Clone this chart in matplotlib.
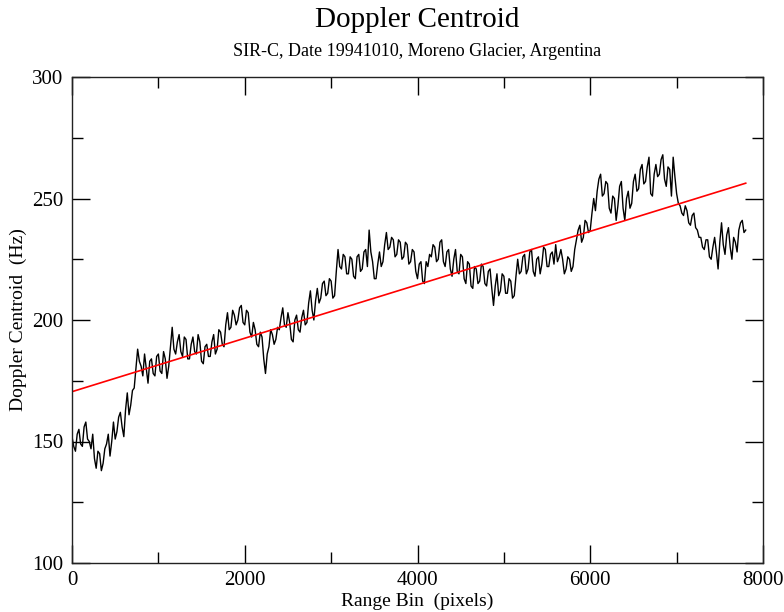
import numpy as np
import matplotlib
matplotlib.use("Agg")
import matplotlib.pyplot as plt
from matplotlib.ticker import MultipleLocator

# -----Data-----
bin_step = 20  # range bins between samples
doppler = [
    152, 148, 146, 153, 155, 149, 148, 156, 158, 151, 150, 147, 153, 143, 139, 146, 145, 138, 141, 147,
    149, 153, 144, 150, 158, 151, 154, 160, 162, 156, 152, 163, 170, 161, 165, 171, 172, 180, 188, 183,
    181, 177, 186, 180, 174, 183, 184, 178, 177, 185, 186, 179, 178, 187, 184, 176, 181, 189, 197, 188,
    186, 191, 194, 187, 185, 193, 192, 184, 184, 190, 193, 187, 186, 194, 191, 183, 182, 189, 190, 185,
    185, 191, 194, 186, 188, 196, 195, 190, 189, 198, 203, 196, 197, 204, 202, 198, 200, 205, 206, 199,
    198, 204, 203, 195, 193, 199, 196, 190, 189, 195, 193, 184, 178, 186, 189, 196, 194, 190, 192, 197,
    196, 201, 205, 198, 197, 203, 199, 192, 191, 200, 202, 196, 195, 201, 204, 198, 199, 207, 212, 204,
    200, 208, 213, 207, 209, 215, 216, 210, 211, 217, 216, 209, 210, 220, 229, 222, 221, 227, 226, 219,
    219, 226, 225, 218, 217, 226, 227, 220, 221, 228, 229, 222, 237, 228, 224, 217, 217, 223, 228, 222,
    224, 231, 236, 229, 230, 234, 233, 226, 227, 233, 232, 225, 226, 232, 231, 223, 224, 229, 228, 220,
    217, 223, 224, 216, 215, 224, 222, 227, 226, 231, 230, 224, 225, 232, 233, 224, 222, 228, 229, 221,
    218, 225, 229, 220, 219, 227, 226, 217, 215, 224, 223, 214, 213, 222, 221, 215, 216, 223, 222, 215,
    214, 220, 221, 213, 206, 214, 219, 210, 212, 219, 218, 211, 211, 217, 216, 209, 210, 218, 225, 219,
    220, 226, 227, 219, 221, 228, 229, 220, 218, 225, 226, 219, 223, 230, 229, 222, 222, 227, 228, 223,
    231, 224, 226, 229, 225, 219, 221, 226, 225, 220, 222, 229, 233, 237, 239, 232, 234, 241, 240, 236,
    237, 244, 250, 245, 253, 258, 260, 251, 252, 257, 256, 246, 244, 251, 250, 241, 247, 255, 257, 246,
    241, 250, 253, 246, 248, 257, 260, 253, 254, 262, 264, 256, 257, 263, 267, 252, 251, 260, 264, 259,
    260, 266, 268, 258, 255, 263, 262, 251, 267, 259, 252, 248, 247, 244, 243, 247, 245, 240, 239, 243,
    244, 238, 237, 234, 234, 230, 229, 233, 233, 226, 225, 230, 234, 228, 221, 232, 240, 231, 227, 235,
    238, 230, 225, 234, 232, 228, 237, 240, 241, 236, 237,
]
range_bin = np.arange(len(doppler)) * bin_step

# linear fit (red line) end points
fit_x = [0, 7800]
fit_y = [170.5, 256.3]

plt.rcParams['font.family'] = ['Liberation Serif', 'DejaVu Serif']

fig = plt.figure(figsize=(7.84, 6.12), dpi=100)
ax = fig.add_axes([72/784, 1 - 563/612, (763-72)/784, (563-77)/612])

ax.plot(range_bin, doppler, color='black', linewidth=1.0)
ax.plot(fit_x, fit_y, color='red', linewidth=1.2)

ax.set_xlim(0, 8000)
ax.set_ylim(100, 300)
ax.xaxis.set_major_locator(MultipleLocator(2000))
ax.xaxis.set_minor_locator(MultipleLocator(1000))
ax.yaxis.set_major_locator(MultipleLocator(50))
ax.yaxis.set_minor_locator(MultipleLocator(25))
ax.tick_params(which='both', direction='in', top=True, right=True, width=1, labelsize=15)
ax.tick_params(which='major', length=13, pad=6)
ax.tick_params(which='minor', length=8)
for s in ax.spines.values():
    s.set_linewidth(1)
    s.set_color('#222222')

ax.set_xlabel('Range Bin  (pixels)', fontsize=14, labelpad=2)
ax.set_ylabel('Doppler Centroid  (Hz)', fontsize=14, labelpad=4)

fig.text(417/784, 1 - 20/612, 'Doppler Centroid', ha='center', va='center', fontsize=21)
fig.text(417/784, 1 - 52/612, 'SIR-C, Date 19941010, Moreno Glacier, Argentina',
         ha='center', va='center', fontsize=13)

fig.savefig('out.png', dpi=100)
